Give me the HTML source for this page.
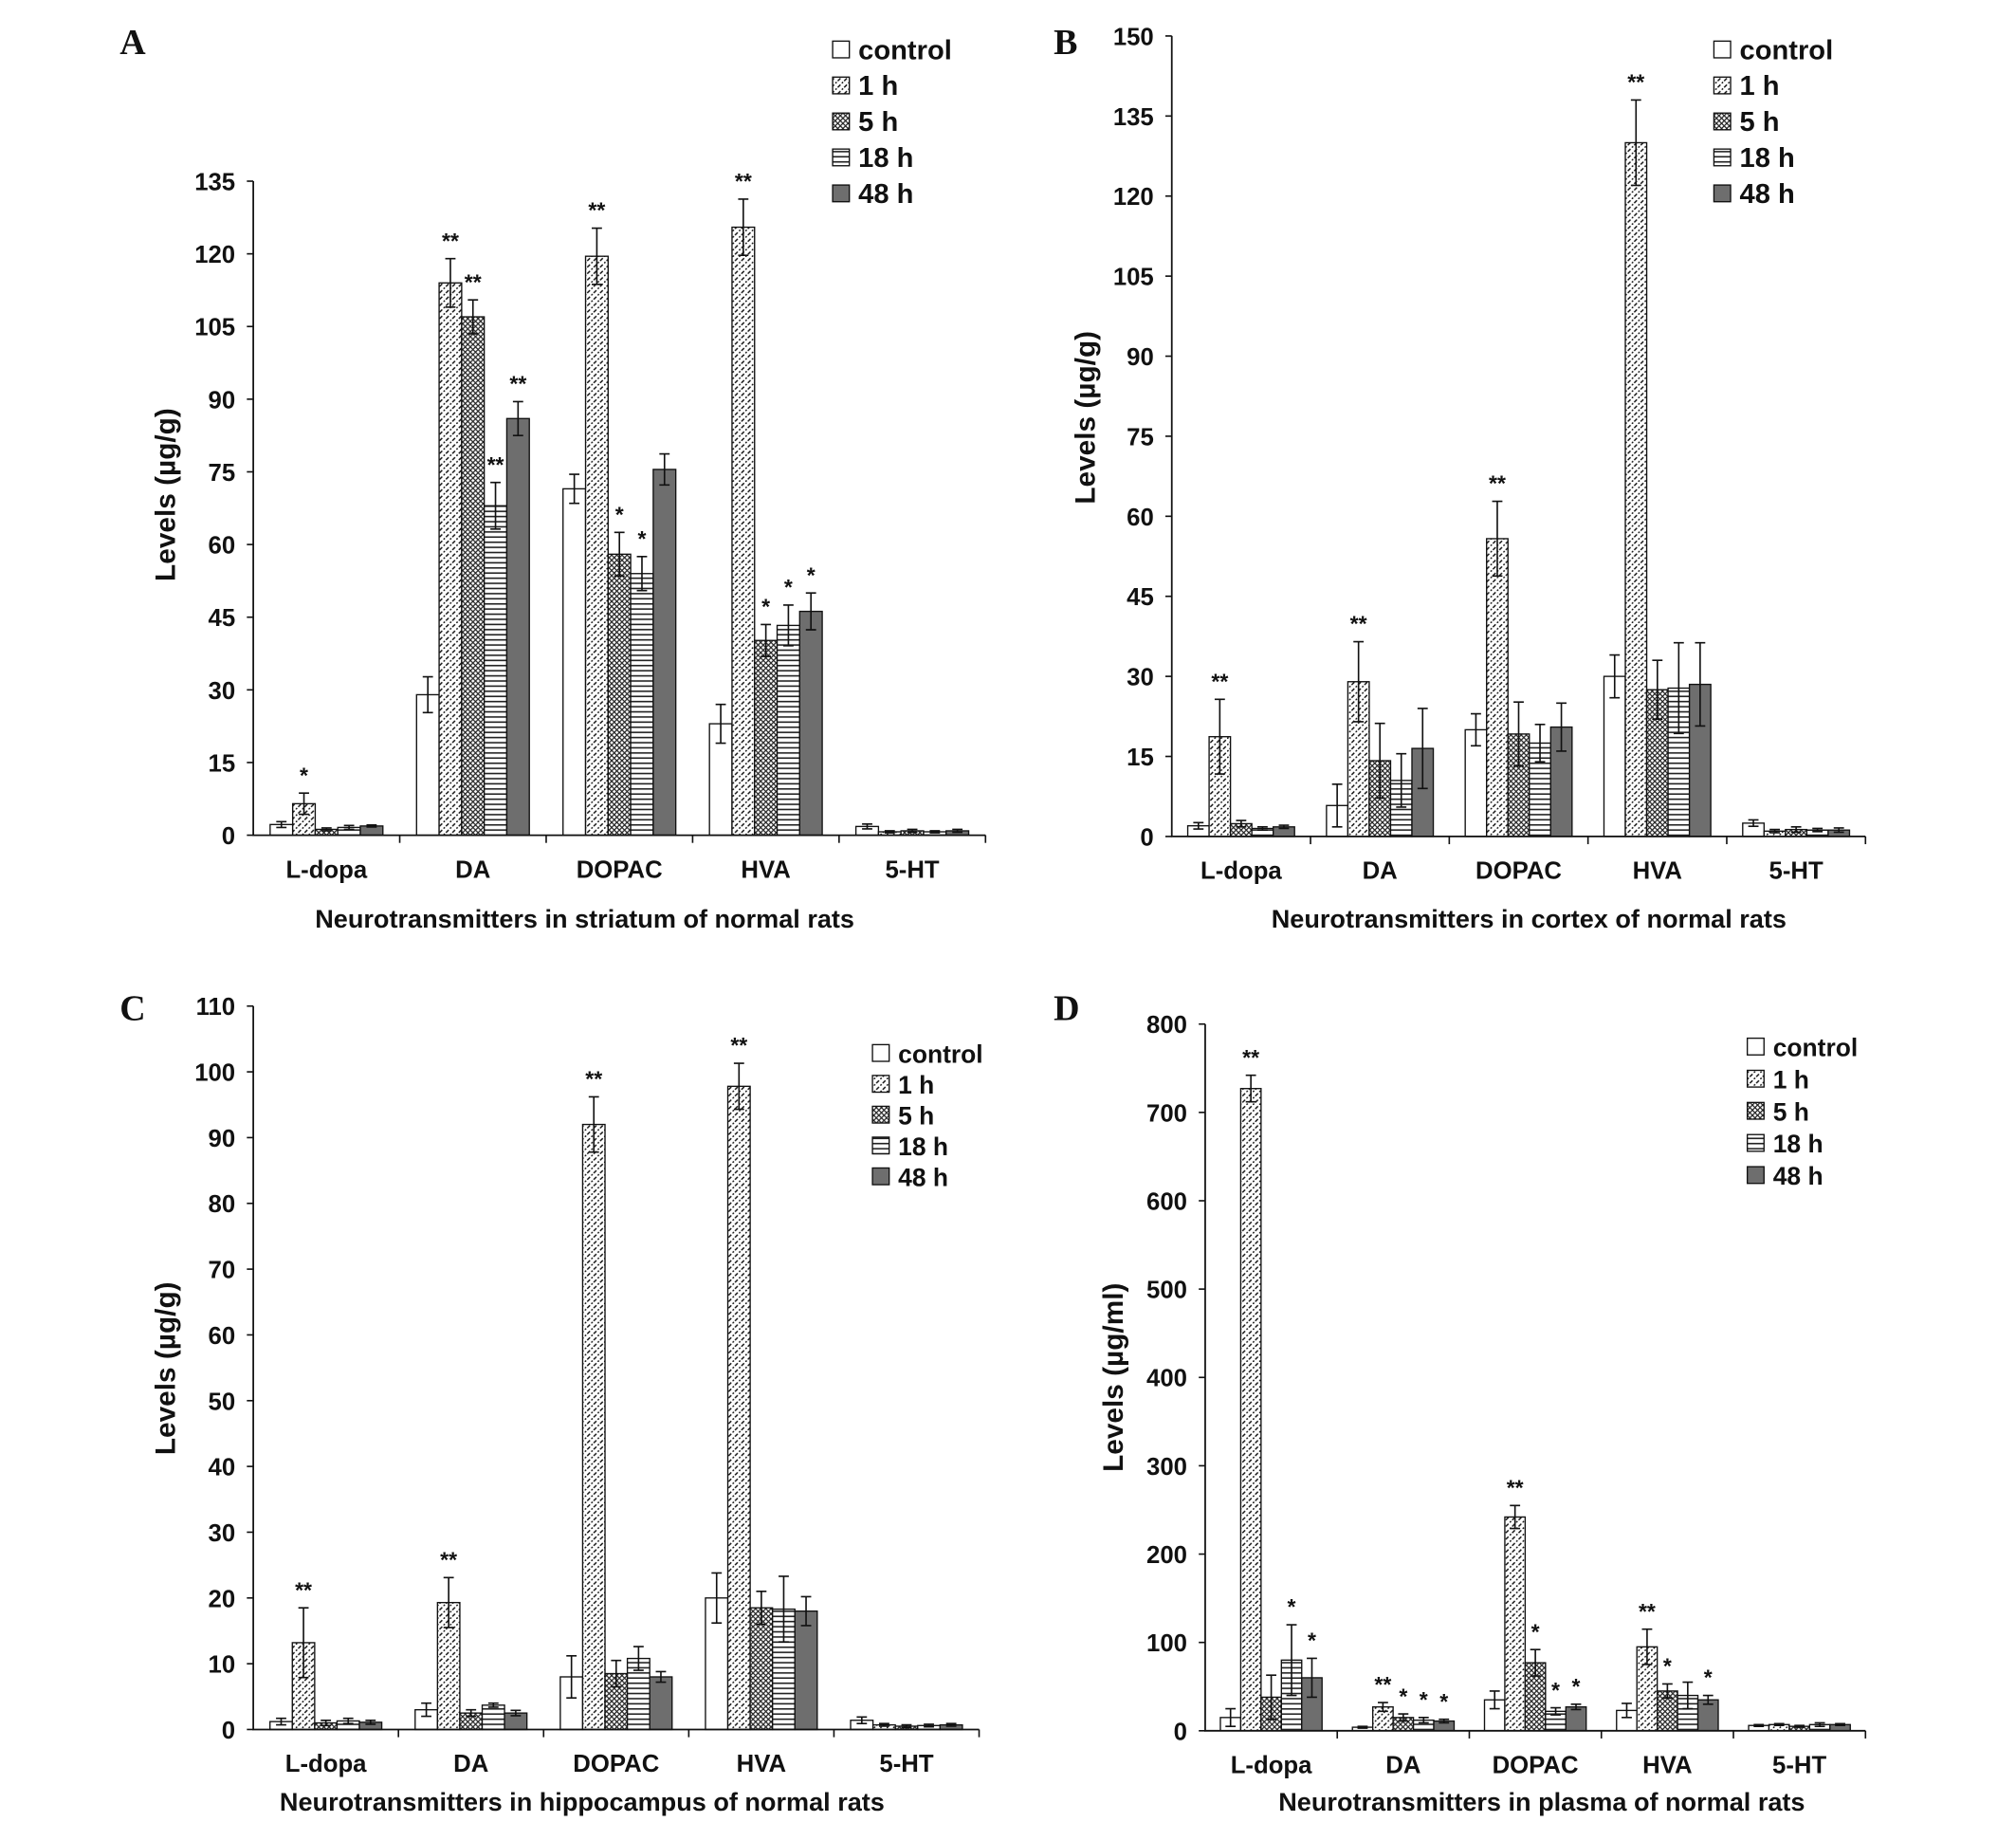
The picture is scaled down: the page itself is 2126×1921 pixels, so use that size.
<!DOCTYPE html>
<html><head><meta charset="utf-8"><style>
html,body{margin:0;padding:0;background:#fff}
svg{display:block}
text{font-family:"Liberation Sans",Arial,sans-serif;font-weight:bold;fill:#111}
</style></head><body>
<svg id="fig" width="2126" height="1921" viewBox="0 0 1569 1418" xmlns="http://www.w3.org/2000/svg">
<defs>
<pattern id="p1" patternUnits="userSpaceOnUse" width="5" height="5">
<rect width="5" height="5" fill="#fff"/><path d="M-1,6 L6,-1" stroke="#111" stroke-width="1.1" stroke-dasharray="3,1.2"/></pattern>
<pattern id="p5" patternUnits="userSpaceOnUse" width="4" height="4">
<rect width="4" height="4" fill="#fff"/><path d="M0,4 L4,0 M0,0 L4,4" stroke="#222" stroke-width="0.9"/></pattern>
<pattern id="p18" patternUnits="userSpaceOnUse" width="4" height="4">
<rect width="4" height="4" fill="#fff"/><path d="M0,2 L4,2" stroke="#222" stroke-width="1.2"/></pattern>
</defs>
</svg>
<script>
const categories = ["L-dopa","DA","DOPAC","HVA","5-HT"];
const seriesNames = ["control","1 h","5 h","18 h","48 h"];
// Panel A (striatum)
const aControl=[2.2,29,71.5,23,1.8], a1h=[6.5,114,119.5,125.5,0.7], a5h=[1.2,107,58,40.2,0.9], a18h=[1.6,68,54,43.3,0.7], a48h=[1.9,86,75.5,46.2,0.9];
const aErrControl=[0.6,3.7,3,4,0.5], aErr1h=[2.2,5,5.8,5.8,0.2], aErr5h=[0.3,3.5,4.5,3.3,0.3], aErr18h=[0.4,4.8,3.5,4.2,0.2], aErr48h=[0.2,3.5,3.2,3.8,0.3];
const aStars=[["","*","","",""],["","**","**","**","**"],["","**","*","*",""],["","**","*","*","*"],["","","","",""]];
const aTicks=[0,15,30,45,60,75,90,105,120,135];
// Panel B (cortex)
const bControl=[2,5.8,20,30,2.5], b1h=[18.7,29,55.8,130,1], b5h=[2.4,14.2,19.2,27.5,1.3], b18h=[1.5,10.5,17.5,27.8,1.2], b48h=[1.8,16.5,20.5,28.5,1.2];
const bErrControl=[0.6,4,3,4,0.6], bErr1h=[7,7.5,7,8,0.3], bErr5h=[0.6,7,6,5.5,0.5], bErr18h=[0.3,5,3.5,8.5,0.3], bErr48h=[0.3,7.5,4.5,7.8,0.4];
const bStars=[["","**","","",""],["","**","","",""],["","**","","",""],["","**","","",""],["","","","",""]];
const bTicks=[0,15,30,45,60,75,90,105,120,135,150];
// Panel C (hippocampus)
const cControl=[1.2,3,8,20,1.4], c1h=[13.2,19.3,92,97.8,0.7], c5h=[1,2.5,8.5,18.5,0.5], c18h=[1.3,3.7,10.8,18.3,0.6], c48h=[1.1,2.5,8,18,0.7];
const cErrControl=[0.5,1,3.2,3.8,0.5], cErr1h=[5.3,3.8,4.2,3.5,0.2], cErr5h=[0.4,0.5,2,2.5,0.2], cErr18h=[0.4,0.3,1.8,5,0.2], cErr48h=[0.3,0.4,0.8,2.2,0.2];
const cStars=[["","**","","",""],["","**","","",""],["","**","","",""],["","**","","",""],["","","","",""]];
const cTicks=[0,10,20,30,40,50,60,70,80,90,100,110];
// Panel D (plasma)
const dControl=[15,4,35,23,6], d1h=[727,27,242,95,7], d5h=[38,15,77,45,5], d18h=[80,12,22,40,7], d48h=[60,11,27,35,7];
const dErrControl=[10,1,10,8,1], dErr1h=[15,5,13,20,1], dErr5h=[25,4,15,8,1], dErr18h=[40,3,4,15,2], dErr48h=[22,2,3,5,1];
const dStars=[["","**","","*","*"],["","**","*","*","*"],["","**","*","*","*"],["","**","*","","*"],["","","","",""]];
const dTicks=[0,100,200,300,400,500,600,700,800];

const NS="http://www.w3.org/2000/svg";
const svg=document.getElementById('fig');
const fills=["#fff","url(#p1)","url(#p5)","url(#p18)","#6e6e6e"];
function mk(tag,attrs,parent){const e=document.createElementNS(NS,tag);for(const k in attrs)e.setAttribute(k,attrs[k]);(parent||svg).appendChild(e);return e;}

function panel(cfg){
  const g=mk('g',{});
  
  
  const {x0,x1,y0,yTop,max,ticks}=cfg;
  const ys=v=>y0-(v/max)*(y0-yTop);
  const gw=(x1-x0)/categories.length;
  const bw=gw*0.154;
  const L=mk('text',{x:cfg.lx,y:cfg.ly,'font-size':28,style:'font-family:"Liberation Serif",serif'},g);L.textContent=cfg.id;
  
  
  cfg.vals.forEach((ser,si)=>{
    ser.forEach((v,ci)=>{
      const cx=x0+gw*(ci+0.5);
      const bx=cx-2.5*bw+si*bw;
      const r=mk('rect',{x:bx,y:ys(v),width:bw,height:y0-ys(v),fill:fills[si],stroke:'#111','stroke-width':1},g);
      
      
      const e=cfg.errs[si][ci];
      const mx=bx+bw/2;
      const eb=mk('path',{d:`M${mx},${ys(v+e)} V${ys(Math.max(0,v-e))} M${mx-4},${ys(v+e)} h8 M${mx-4},${ys(Math.max(0,v-e))} h8`,stroke:'#111','stroke-width':1.2,fill:'none'},g);
      
      
      const st=cfg.stars[ci][si];
      if(st){const t=mk('text',{x:mx,y:ys(v+e)-8,'font-size':17,'text-anchor':'middle'},g);t.textContent=st;
        
        }
    });
  });
  const ax=mk('path',{d:`M${x0},${yTop} V${y0} H${x1}`,stroke:'#111','stroke-width':1.3,fill:'none'},g);
  
  
  ticks.forEach(t=>{
    mk('path',{d:`M${x0-5},${ys(t)} H${x0}`,stroke:'#111','stroke-width':1.2},g);
    const tl=mk('text',{x:x0-14,y:ys(t)+7,'font-size':19,'text-anchor':'end'},g);tl.textContent=t;
    
    
  });
  for(let i=1;i<=categories.length;i++) mk('path',{d:`M${x0+gw*i},${y0} v6`,stroke:'#111','stroke-width':1.2},g);
  categories.forEach((c,ci)=>{
    const t=mk('text',{x:x0+gw*(ci+0.5),y:y0+33,'font-size':19,'text-anchor':'middle'},g);t.textContent=c;
    
    
  });
  const xt=mk('text',{x:cfg.xtx,y:cfg.xty,'font-size':20,'text-anchor':'middle'},g);xt.textContent=cfg.xtitle;
  
  
  const yt=mk('text',{x:0,y:0,'font-size':22,'text-anchor':'middle',transform:`translate(${cfg.ytx},${cfg.yty}) rotate(-90)`},g);yt.textContent=cfg.ytitle;
  
  
  seriesNames.forEach((n,si)=>{
    const yy=cfg.legY+si*cfg.legDy;
    const lg=mk('g',{},g);
    
    
    mk('rect',{x:cfg.legX,y:yy-7,width:13,height:13,fill:fills[si],stroke:'#111','stroke-width':1},lg);
    const t=mk('text',{x:cfg.legX+20,y:yy+7,'font-size':cfg.legFs},lg);t.textContent=n;
  });
}
panel({id:'A',x0:197,x1:767,y0:650,yTop:141,max:135,ticks:aTicks,lx:93,ly:42,
  vals:[aControl,a1h,a5h,a18h,a48h],errs:[aErrControl,aErr1h,aErr5h,aErr18h,aErr48h],stars:aStars,
  xtitle:'Neurotransmitters in striatum of normal rats',xtx:455,xty:722,ytitle:'Levels (µg/g)',ytx:136,yty:385,
  legX:648,legY:39,legDy:28,legFs:21.5});
panel({id:'B',x0:912,x1:1452,y0:651,yTop:28,max:150,ticks:bTicks,lx:820,ly:42,
  vals:[bControl,b1h,b5h,b18h,b48h],errs:[bErrControl,bErr1h,bErr5h,bErr18h,bErr48h],stars:bStars,
  xtitle:'Neurotransmitters in cortex of normal rats',xtx:1190,xty:722,ytitle:'Levels (µg/g)',ytx:852,yty:325,
  legX:1334,legY:39,legDy:28,legFs:21.5});
panel({id:'C',x0:197,x1:762,y0:1346,yTop:783,max:110,ticks:cTicks,lx:93,ly:794,
  vals:[cControl,c1h,c5h,c18h,c48h],errs:[cErrControl,cErr1h,cErr5h,cErr18h,cErr48h],stars:cStars,
  xtitle:'Neurotransmitters in hippocampus of normal rats',xtx:453,xty:1409,ytitle:'Levels (µg/g)',ytx:136,yty:1065,
  legX:679,legY:820,legDy:24,legFs:19.5});
panel({id:'D',x0:938,x1:1452,y0:1347,yTop:797,max:800,ticks:dTicks,lx:820,ly:794,
  vals:[dControl,d1h,d5h,d18h,d48h],errs:[dErrControl,dErr1h,dErr5h,dErr18h,dErr48h],stars:dStars,
  xtitle:'Neurotransmitters in plasma of normal rats',xtx:1200,xty:1409,ytitle:'Levels (µg/ml)',ytx:874,yty:1072,
  legX:1360,legY:815,legDy:25,legFs:19.5});
</script>
</body></html>
